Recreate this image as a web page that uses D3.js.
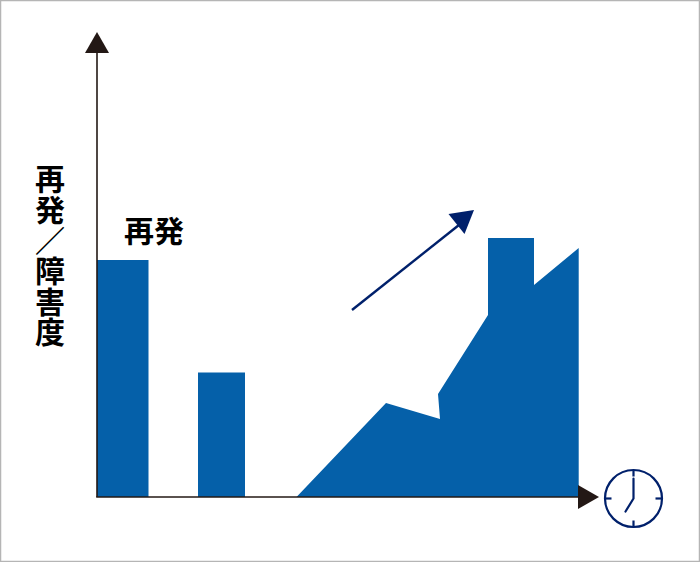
<!DOCTYPE html>
<html>
	<head>
		<meta charset="utf-8">
		<style type="text/css">
			html, body { margin: 0; padding: 0; background: white; }
			svg { display: block; }
			text { font-family: "Noto Sans CJK JP", sans-serif; font-weight: 700; fill: #000; }
		</style>
		<title>再発／障害度</title>
	</head>
	<body>
		<script src="https://cdn.jsdelivr.net/npm/d3@7"></script>
		<script>

// values, time on x and severity on y (both in picture units)
var bar_start = [0, 101];
var bar_end   = [51.5, 148];
var bar_value = [237, 124.5];

var area_time  = [199.5, 289, 343, 341, 391, 391, 437, 437, 481.7, 481.7];
var area_value = [0, 94, 78, 103, 182, 259, 259, 212, 249, 0];

var y_title = ["再", "発", "／", "障", "害", "度"];
var bar_label = "再発";

var width = 700, height = 562;
var blue = "#0560a9", navy = "#00206b", dark = "#231815";

var x = d3.scaleLinear().domain([0, 502]).range([97, 599]);
var y = d3.scaleLinear().domain([0, 465]).range([497, 32]);

var svg = d3.select("body").append("svg")
	.attr("width", width)
	.attr("height", height);

svg.append("rect")
	.attr("x", 0.5).attr("y", 0.5)
	.attr("width", width - 1).attr("height", height - 1)
	.attr("fill", "white")
	.attr("stroke", "#b5b5b5")
	.attr("stroke-width", 1.5);

// bars
svg.selectAll(".bar")
	.data(bar_value)
	.enter().append("rect")
		.attr("class", "bar")
		.attr("x", (d, i) => x(bar_start[i]))
		.attr("width", (d, i) => x(bar_end[i]) - x(bar_start[i]))
		.attr("y", d => y(d))
		.attr("height", d => y(0) - y(d))
		.attr("fill", blue);

// area
svg.append("path")
	.datum(area_time.map((t, i) => [t, area_value[i]]))
	.attr("fill", blue)
	.attr("d", d3.line().x(d => x(d[0])).y(d => y(d[1])));

// axes
svg.append("path")
	.attr("d", d3.line()([[x(0), y(0)], [x(0), y(445)]]))
	.attr("stroke", dark).attr("stroke-width", 1.6).attr("fill", "none");
svg.append("path")
	.attr("d", d3.line()([[x(0) - 0.8, y(0)], [x(482), y(0)]]))
	.attr("stroke", dark).attr("stroke-width", 1.6).attr("fill", "none");
svg.append("path")
	.attr("d", d3.line()([[x(0), y(465)], [x(-12), y(444)], [x(12), y(444)]]) + "Z")
	.attr("fill", dark);
svg.append("path")
	.attr("d", d3.line()([[x(502), y(0)], [x(481), y(12)], [x(481), y(-12)]]) + "Z")
	.attr("fill", dark);

// trend arrow
svg.append("path")
	.attr("d", d3.line()([[x(255), y(187)], [x(367), y(276)]]))
	.attr("stroke", navy).attr("stroke-width", 2.4).attr("fill", "none");
svg.append("path")
	.attr("d", d3.line()([[x(377), y(287)], [x(351.5), y(283)], [x(367.5), y(263)]]) + "Z")
	.attr("fill", navy);

// labels
svg.append("text")
	.attr("x", 124).attr("y", 242)
	.attr("font-size", 30)
	.text(bar_label);

svg.append("text")
	.attr("x", 50).attr("y", 164)
	.attr("font-size", 30)
	.attr("letter-spacing", 0.6)
	.style("writing-mode", "vertical-rl")
	.text(y_title.join(""));

// clock
var clock = svg.append("g")
	.attr("transform", "translate(633.5,498.5)")
	.attr("fill", "none")
	.attr("stroke", navy)
	.attr("stroke-width", 2.2);
clock.append("circle").attr("r", 28.5).attr("fill", "white");
clock.selectAll(".tick")
	.data([0, 90, 180, 270])
	.enter().append("line")
		.attr("class", "tick")
		.attr("y1", -28.5).attr("y2", -22)
		.attr("transform", d => `rotate(${d})`);
clock.append("path")
	.attr("stroke-linecap", "round")
	.attr("d", d3.line()([[0, -20], [0, 0], [-8, 13]]));

		</script>
	</body>
</html>
